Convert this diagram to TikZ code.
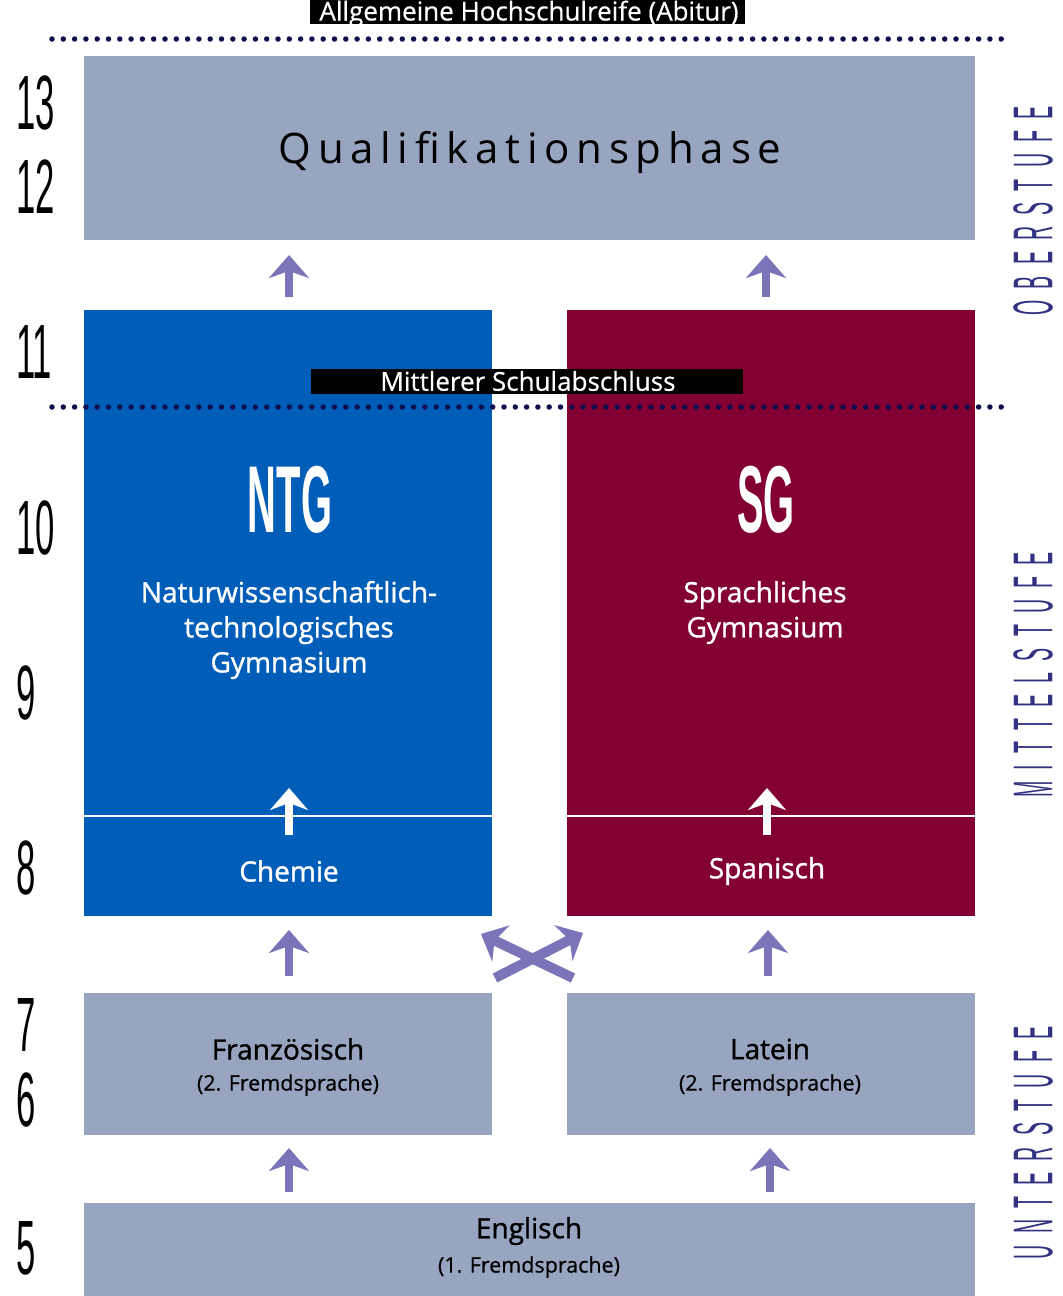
\documentclass[tikz,border=0pt]{standalone}
\usepackage{fontspec}
\usetikzlibrary{arrows.meta}
\setmainfont{Open Sans}
\newfontfamily\numf{Liberation Sans}[FakeStretch=0.45]
\newfontfamily\bigf{Liberation Sans}[FakeStretch=0.42]
\newfontfamily\vertf{Liberation Sans}[FakeStretch=0.35, LetterSpace=20]
\newfontfamily\semif{Open Sans}[FakeBold=1.2]
\newfontfamily\lightsemif{Open Sans}[FakeBold=0.6]
\newfontfamily\titf{Open Sans}[FakeBold=0.6]
\newfontfamily\qualf{Open Sans}[LetterSpace=16]
\definecolor{grayblue}{RGB}{152,165,192}
\definecolor{ntgblue}{RGB}{0,94,184}
\definecolor{sgred}{RGB}{130,0,50}
\definecolor{arrpurple}{RGB}{123,116,184}
\definecolor{dotnavy}{RGB}{15,15,80}
\definecolor{vertnavy}{RGB}{50,50,130}
\tikzset{
  box/.style={rectangle, inner sep=0pt, draw=none},
  grade/.style={anchor=west, inner sep=0pt, font=\numf\fontsize{77}{77}\selectfont},
  stage/.style={rotate=90, inner sep=0pt, text=vertnavy, font=\vertf\fontsize{56}{56}\selectfont},
  uparr/.style={draw=arrpurple, line width=8pt, -{Stealth[length=23pt, width=40pt, inset=7pt]}},
  whitearr/.style={draw=white, line width=8pt, -{Stealth[length=22pt, width=38pt, inset=7pt]}},
  crossarr/.style={draw=arrpurple, line width=10pt, -{Stealth[length=22pt, width=40pt, inset=7pt]}},
  dotline/.style={draw=dotnavy, line width=5.5pt, line cap=round, dash pattern=on 0pt off 11.3pt},
  banner/.style={rectangle, fill=black, text=white, inner sep=0pt},
  wtext/.style={text=white, inner sep=0pt, align=center},
  btext/.style={inner sep=0pt, align=center},
}
\begin{document}
\begin{tikzpicture}[x=1pt, y=-1pt]
\useasboundingbox (0,0) rectangle (1063,1296);
\fill[white] (0,0) rectangle (1063,1296);

% boxes
\node[box, fill=grayblue, minimum width=891pt, minimum height=184pt] (quali) at (529.5,148) {};
\node[box, fill=ntgblue, minimum width=408pt, minimum height=606pt] (ntg) at (288,613) {};
\node[box, fill=sgred, minimum width=408pt, minimum height=606pt] (sg) at (771,613) {};
\node[box, fill=grayblue, minimum width=408pt, minimum height=142pt] (franz) at (288,1064) {};
\node[box, fill=grayblue, minimum width=408pt, minimum height=142pt] (latein) at (771,1064) {};
\node[box, fill=grayblue, minimum width=891pt, minimum height=93pt] (engl) at (529.5,1249.5) {};

% divider lines
\draw[white, line width=2pt] (84,816) -- (492,816);
\draw[white, line width=2pt] (567,816) -- (975,816);

% banners
\node[banner, minimum width=435pt, minimum height=24pt] (abitur) at (527.5,12) {};
\node[wtext, anchor=base, font=\titf\fontsize{26}{26}\selectfont] (abiturt) at (529,20.5) {Allgemeine Hochschulreife (Abitur)};
\node[banner, minimum width=432pt, minimum height=25pt] (msa) at (527,381.5) {};
\node[wtext, font=\lightsemif\fontsize{26}{26}\selectfont] (msat) at (528,381) {Mittlerer Schulabschluss};

% dotted lines
\coordinate (d1a) at (52,39); \coordinate (d1b) at (1012,39);
\draw[dotline] (d1a) -- (d1b);
\coordinate (d2a) at (52,407); \coordinate (d2b) at (1012,407);
\draw[dotline] (d2a) -- (d2b);

% texts
\node[btext, font=\qualf\fontsize{42}{42}\selectfont] (qtext) at (530,152) {Qualifikationsphase};
\node[wtext, font=\bigf\bfseries\fontsize{95}{95}\selectfont] (ntgt) at (290,500) {NTG};
\node[wtext, font=\bigf\bfseries\fontsize{95}{95}\selectfont] (sgt) at (766,500) {SG};
\node[wtext, font=\semif\fontsize{28}{35}\selectfont] (ntgd) at (289,630) {Naturwissenschaftlich-\\technologisches\\Gymnasium};
\node[wtext, font=\semif\fontsize{28}{35}\selectfont] (sgd) at (765,612.5) {Sprachliches\\Gymnasium};
\node[wtext, font=\semif\fontsize{28}{28}\selectfont] (chem) at (289,871) {Chemie};
\node[wtext, font=\semif\fontsize{28}{28}\selectfont] (span) at (767,871) {Spanisch};
\node[btext, font=\semif\fontsize{28}{28}\selectfont] (fr1) at (288,1049) {Französisch};
\node[btext, font=\lightsemif\fontsize{21.5}{21.5}\selectfont] (fr2) at (288,1085) {(2. Fremdsprache)};
\node[btext, font=\semif\fontsize{28}{28}\selectfont] (la1) at (770,1049) {Latein};
\node[btext, font=\lightsemif\fontsize{21.5}{21.5}\selectfont] (la2) at (770,1085) {(2. Fremdsprache)};
\node[btext, font=\semif\fontsize{28}{28}\selectfont] (en1) at (529,1231) {Englisch};
\node[btext, font=\lightsemif\fontsize{21.5}{21.5}\selectfont] (en2) at (529,1267) {(1. Fremdsprache)};

% grade numbers
\node[grade] (g13) at (16,103) {13};
\node[grade] (g12) at (16,187) {12};
\node[grade] (g11) at (16,352) {11};
\node[grade] (g10) at (16,528) {10};
\node[grade] (g9) at (16,693) {9};
\node[grade] (g8) at (16,868) {8};
\node[grade] (g7) at (16,1025) {7};
\node[grade] (g6) at (16,1100) {6};
\node[grade] (g5) at (16,1248) {5};

% stage labels
\node[stage] (ober) at (1033,211) {OBERSTUFE};
\node[stage] (mittel) at (1033,675) {MITTELSTUFE};
\node[stage] (unter) at (1033,1143) {UNTERSTUFE};

% arrows
\coordinate (a1s) at (289,297); \coordinate (a1e) at (289,255);
\coordinate (a2s) at (766,297); \coordinate (a2e) at (766,255);
\draw[uparr] (a1s) -- (a1e);
\draw[uparr] (a2s) -- (a2e);
\coordinate (w1s) at (289,835); \coordinate (w1e) at (289,788);
\coordinate (w2s) at (767,835); \coordinate (w2e) at (767,788);
\draw[whitearr] (w1s) -- (w1e);
\draw[whitearr] (w2s) -- (w2e);
\coordinate (b1s) at (289,976); \coordinate (b1e) at (289,930);
\coordinate (b2s) at (768,976); \coordinate (b2e) at (768,930);
\draw[uparr] (b1s) -- (b1e);
\draw[uparr] (b2s) -- (b2e);
\coordinate (c1s) at (573,978); \coordinate (c1e) at (481,934);
\coordinate (c2s) at (495,978); \coordinate (c2e) at (583,933);
\draw[crossarr] (c1s) -- (c1e);
\draw[crossarr] (c2s) -- (c2e);
\coordinate (e1s) at (289,1192); \coordinate (e1e) at (289,1148);
\coordinate (e2s) at (770,1192); \coordinate (e2e) at (770,1148);
\draw[uparr] (e1s) -- (e1e);
\draw[uparr] (e2s) -- (e2e);
\end{tikzpicture}
\end{document}
